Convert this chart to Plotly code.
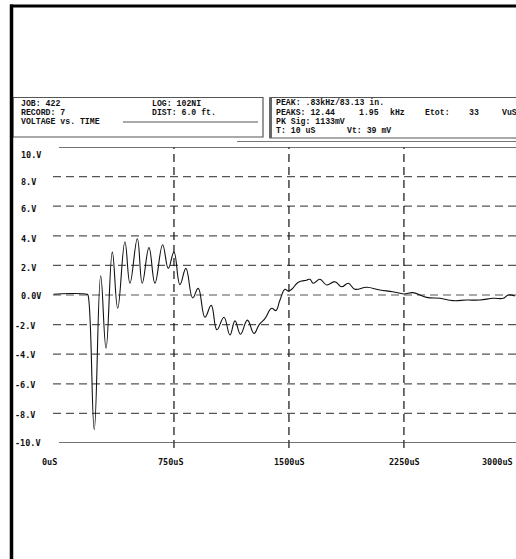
import plotly.graph_objects as go

# ---- data ----
t_us = [-35, 70, 183, 189, 230, 272, 307, 348, 383, 430, 463, 511, 543, 587, 626, 676, 713,
        750, 789, 828, 872, 908, 952, 993, 1030, 1076, 1115, 1148, 1184, 1229, 1272, 1306,
        1343, 1387, 1415, 1441, 1474, 1495, 1518, 1561, 1615, 1637, 1659, 1702, 1746, 1800,
        1844, 1887, 1930, 2007, 2093, 2178, 2250, 2309, 2398, 2485, 2570, 2659, 2746, 2832,
        2898, 2930, 2974]
v_volts = [0.05, 0.1, 0.05, 0.0, -9.1, 1.3, -3.6, 2.9, -0.9, 3.6, 0.8, 3.8, 0.8, 3.2, 0.8, 3.4,
           1.8, 2.9, 0.7, 1.8, -0.2, 0.45, -1.5, -0.7, -2.35, -1.5, -2.7, -1.75, -2.65, -1.7,
           -2.6, -2.0, -1.6, -0.9, -1.05, -0.35, 0.39, 0.27, 0.39, 0.86, 1.0, 1.06, 0.79, 1.06,
           0.68, 0.9, 0.56, 0.79, 0.39, 0.52, 0.34, 0.22, 0.07, 0.16, -0.16, -0.22, -0.38,
           -0.34, -0.34, -0.22, -0.22, 0.0, -0.07]

y_grid = [8, 6, 4, 2, 0, -2, -4, -6, -8]
x_grid = [750, 1500, 2250]
y_tick_labels = ["10.V", "8.V", "6.V", "4.V", "2.V", "0.0V", "-2.V", "-4.V", "-6.V", "-8.V", "-10.V"]
y_tick_px = [155, 182, 209, 239, 267.5, 295.5, 325.5, 355, 385, 415, 442.5]
x_tick_labels = ["0uS", "750uS", "1500uS", "2250uS", "3000uS"]
x_tick_px = [49, 171, 289, 404, 497]

header_left = [("JOB: 422", 19, 103.5), ("RECORD: 7", 19, 112.7), ("VOLTAGE vs. TIME", 19, 121.9),
               ("LOG: 102NI", 150, 103.5), ("DIST: 6.0 ft.", 150, 112.7)]
header_right = [("PEAK: .83kHz/83.13 in.", 274, 103),
                ("PEAKS: 12.44", 274, 112.2), ("1.95", 357, 112.2), ("kHz", 388, 112.2),
                ("Etot:", 423, 112.2), ("33", 467, 112.2), ("VuS", 500, 112.2),
                ("PK Sig: 1133mV", 274, 121.4),
                ("T: 10 uS", 274, 130.6), ("Vt: 39 mV", 345, 130.6)]

# ---- layout geometry (pixels) ----
W, H = 516, 559
L, R, T, B = 53, 516, 147, 443


def px(x):
    return (x - L) / (R - L)


def py(y):
    return (B - y) / (B - T)


FONT = dict(family="Liberation Mono", size=8.2, color="#111111", weight="bold")
TICKFONT = dict(family="DejaVu Sans Mono", size=8.5, color="#111111", weight="bold")

fig = go.Figure()
fig.add_trace(go.Scatter(x=t_us, y=v_volts, mode="lines",
                         line=dict(color="#111111", width=1.1, shape="spline", smoothing=1.2),
                         hoverinfo="skip", showlegend=False))

shapes = []
for g in y_grid:
    shapes.append(dict(type="line", xref="paper", yref="y", x0=0, x1=1, y0=g, y1=g,
                       line=dict(color="#555555", width=1.2, dash="8px,5px"), layer="below"))
for g in x_grid:
    shapes.append(dict(type="line", xref="x", yref="paper", x0=g, x1=g, y0=py(448), y1=1,
                       line=dict(color="#111111", width=1.2, dash="8px,5px"), layer="below"))
# top and bottom solid frame lines
for yy in [10, -10]:
    shapes.append(dict(type="line", xref="x", yref="y", x0=0, x1=3100, y0=yy, y1=yy,
                       line=dict(color="#444444", width=1.5)))
# header boxes
shapes.append(dict(type="rect", xref="paper", yref="paper", x0=px(13), x1=px(263),
                   y0=py(137), y1=py(97.5), line=dict(color="#555555", width=1.2)))
shapes.append(dict(type="line", xref="paper", yref="paper", x0=px(123), x1=px(258),
                   y0=py(122), y1=py(122), line=dict(color="#555555", width=1.2)))
shapes.append(dict(type="rect", xref="paper", yref="paper", x0=px(270), x1=px(530),
                   y0=py(138), y1=py(97.5), line=dict(color="#555555", width=1.2)))
shapes.append(dict(type="line", xref="paper", yref="paper", x0=px(270.5), x1=px(270.5),
                   y0=py(138), y1=py(97.5), line=dict(color="#666666", width=3)))
shapes.append(dict(type="line", xref="paper", yref="paper", x0=px(237), x1=px(530),
                   y0=py(141.5), y1=py(141.5), line=dict(color="#777777", width=1)))
# page border
shapes.append(dict(type="line", xref="paper", yref="paper", x0=px(10), x1=px(520),
                   y0=py(6), y1=py(6), line=dict(color="#000000", width=3)))
shapes.append(dict(type="line", xref="paper", yref="paper", x0=px(11.5), x1=px(11.5),
                   y0=py(4.5), y1=py(565), line=dict(color="#000000", width=3.5)))

ann = []
for lab, yy in zip(y_tick_labels, y_tick_px):
    x0 = 13 if lab.startswith("-") else 19
    ann.append(dict(text=lab, xref="paper", yref="paper", x=px(x0), y=py(yy),
                    xanchor="left", yanchor="middle", showarrow=False, font=TICKFONT))
for lab, xx in zip(x_tick_labels, x_tick_px):
    ann.append(dict(text=lab, xref="paper", yref="paper", x=px(xx), y=py(462),
                    xanchor="center", yanchor="middle", showarrow=False, font=TICKFONT))
for lab, xx, yy in header_left + header_right:
    ann.append(dict(text=lab, xref="paper", yref="paper", x=px(xx), y=py(yy),
                    xanchor="left", yanchor="middle", showarrow=False, font=FONT))

fig.update_layout(
    width=W, height=H,
    margin=dict(l=L, r=W - R, t=T, b=H - B, pad=0),
    paper_bgcolor="white", plot_bgcolor="white",
    xaxis=dict(range=[-39, 2981], showgrid=False, zeroline=False, showticklabels=False,
               ticks="", showline=False, fixedrange=True),
    yaxis=dict(range=[-10, 10], showgrid=False, zeroline=False, showticklabels=False,
               ticks="", showline=False, fixedrange=True),
    shapes=shapes, annotations=ann, showlegend=False,
)

fig.write_html("out.html", config={"displayModeBar": False},
               post_script="document.body.style.margin='0';document.body.style.overflow='hidden';")
